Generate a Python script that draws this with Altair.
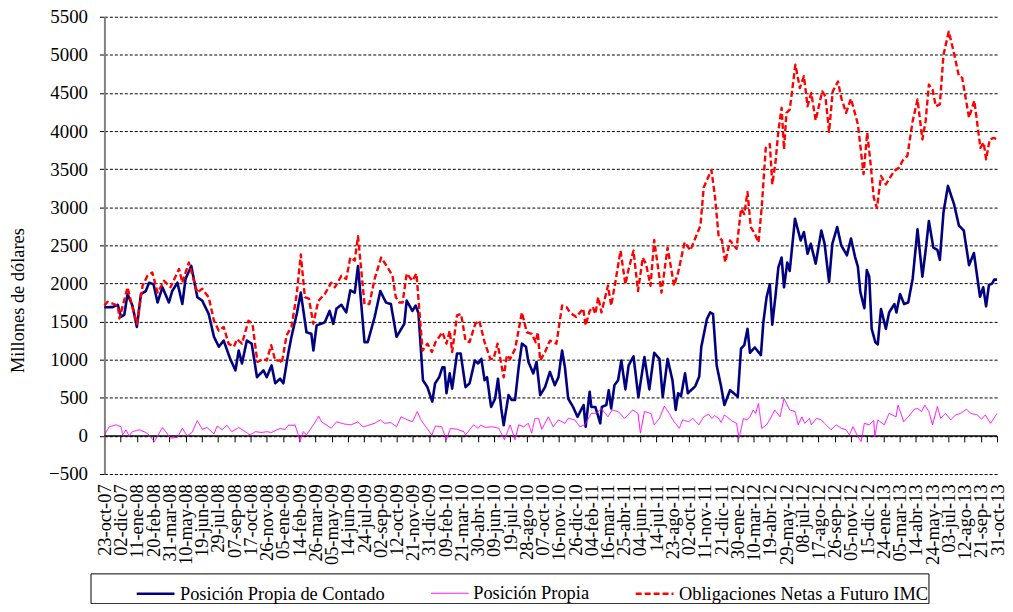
import json
import pandas as pd
import altair as alt

# x tick labels (every 40 days from 23-oct-07)
etiquetas = ["23-oct-07", "02-dic-07", "11-ene-08", "20-feb-08", "31-mar-08", "10-may-08",
             "19-jun-08", "29-jul-08", "07-sep-08", "17-oct-08", "26-nov-08", "05-ene-09",
             "14-feb-09", "26-mar-09", "05-may-09", "14-jun-09", "24-jul-09", "02-sep-09",
             "12-oct-09", "21-nov-09", "31-dic-09", "09-feb-10", "21-mar-10", "30-abr-10",
             "09-jun-10", "19-jul-10", "28-ago-10", "07-oct-10", "16-nov-10", "26-dic-10",
             "04-feb-11", "16-mar-11", "25-abr-11", "04-jun-11", "14-jul-11", "23-ago-11",
             "02-oct-11", "11-nov-11", "21-dic-11", "30-ene-12", "10-mar-12", "19-abr-12",
             "29-may-12", "08-jul-12", "17-ago-12", "26-sep-12", "05-nov-12", "15-dic-12",
             "24-ene-13", "05-mar-13", "14-abr-13", "24-may-13", "03-jul-13", "12-ago-13",
             "21-sep-13", "31-oct-13"]

series = ["Posición Propia de Contado", "Posición Propia", "Obligaciones Netas a Futuro IMC"]

# Posición Propia de Contado: (days since 23-oct-07, millones de dólares)
contado_dias = [0, 20, 33, 41, 49, 57, 69, 80, 90, 102, 110, 121, 131, 143, 159, 167, 180, 192, 200, 214,
                229, 241, 257, 270, 282, 294, 310, 323, 331, 339, 351, 363, 376, 392, 400, 412, 421, 433, 441, 453,
                461, 474, 484, 498, 510, 515, 523, 543, 555, 564, 572, 584, 596, 606, 617, 625, 641, 649, 666, 680,
                694, 706, 720, 739, 745, 759, 767, 774, 785, 796, 808, 815, 825, 833, 838, 843, 851, 857, 869, 878,
                890, 900, 913, 921, 929, 937, 943, 953, 963, 970, 978, 984, 996, 1004, 1012, 1021, 1029, 1039, 1045, 1057,
                1065, 1074, 1086, 1098, 1110, 1119, 1128, 1135, 1143, 1155, 1166, 1181, 1186, 1196, 1200, 1210, 1222, 1226, 1237, 1243,
                1249, 1257, 1266, 1274, 1284, 1292, 1304, 1316, 1331, 1343, 1355, 1368, 1376, 1388, 1400, 1408, 1414, 1421, 1431, 1438,
                1456, 1466, 1471, 1485, 1493, 1500, 1509, 1520, 1528, 1542, 1561, 1569, 1577, 1585, 1591, 1603, 1618, 1624, 1632, 1640,
                1646, 1654, 1661, 1669, 1675, 1683, 1689, 1702, 1716, 1724, 1733, 1741, 1753, 1767, 1775, 1786, 1794, 1806, 1816, 1830,
                1840, 1850, 1857, 1863, 1873, 1879, 1885, 1891, 1900, 1906, 1914, 1926, 1934, 1947, 1952, 1961, 1971, 1981, 1992, 2004,
                2016, 2024, 2032, 2043, 2053, 2059, 2068, 2079, 2094, 2106, 2118, 2131, 2143, 2158, 2166, 2173, 2180, 2188, 2193, 2200]
contado_val = [1688, 1690, 1720, 1560, 1590, 1860, 1710, 1430, 1860, 1900, 2010, 1990, 1750, 1950, 1750, 1900, 2010, 1730, 2060, 2230,
               1820, 1775, 1600, 1300, 1170, 1250, 1010, 860, 1120, 950, 1250, 1210, 770, 860, 770, 925, 690, 750, 690, 1080,
               1300, 1600, 1880, 1360, 1340, 1120, 1450, 1490, 1640, 1470, 1670, 1720, 1620, 1910, 1880, 2230, 1230, 1230, 1560, 1900,
               1750, 1730, 1300, 1470, 1775, 1640, 1710, 1610, 730, 640, 450, 690, 770, 900, 900, 560, 820, 620, 1080, 1080,
               640, 690, 990, 950, 1010, 730, 770, 380, 490, 750, 360, 140, 535, 470, 470, 900, 1210, 1170, 970, 820,
               970, 535, 640, 840, 665, 770, 1120, 900, 490, 380, 250, 405, 120, 580, 380, 380, 165, 380, 405, 600,
               360, 665, 730, 990, 610, 925, 1045, 510, 1035, 610, 1090, 1010, 510, 1010, 730, 340, 560, 520, 820, 560,
               650, 780, 1165, 1535, 1620, 1600, 925, 645, 405, 600, 515, 1145, 1190, 1405, 1090, 1160, 1060, 1490, 1820, 1990,
               1460, 1840, 2210, 2340, 1950, 2275, 2165, 2850, 2565, 2675, 2390, 2520, 2260, 2695, 2520, 2020, 2520, 2740, 2500, 2370,
               2590, 2350, 2220, 1890, 1675, 2175, 2090, 1405, 1230, 1200, 1665, 1405, 1620, 1730, 1620, 1860, 1730, 1750, 2060, 2710,
               2090, 2435, 2820, 2470, 2440, 2310, 2935, 3280, 3040, 2760, 2695, 2240, 2400, 1825, 1950, 1700, 1980, 2000, 2050, 2050]

# Posición Propia
propia_dias = [0, 12, 29, 41, 45, 53, 61, 69, 86, 102, 110, 123, 143, 163, 180, 192, 204, 216, 229, 241,
               253, 270, 278, 290, 302, 314, 331, 347, 359, 372, 388, 400, 412, 433, 445, 453, 470, 478, 482, 490,
               498, 519, 528, 535, 559, 572, 592, 608, 625, 637, 645, 666, 680, 690, 706, 720, 731, 747, 759, 771,
               780, 792, 807, 816, 831, 843, 853, 869, 886, 890, 910, 921, 927, 939, 955, 972, 980, 986, 992, 1000,
               1012, 1021, 1033, 1045, 1053, 1061, 1070, 1078, 1094, 1106, 1119, 1135, 1143, 1159, 1172, 1184, 1200, 1212, 1225, 1241,
               1251, 1266, 1282, 1302, 1315, 1321, 1331, 1347, 1355, 1368, 1380, 1392, 1404, 1417, 1425, 1440, 1450, 1465, 1477, 1489,
               1497, 1504, 1514, 1520, 1528, 1546, 1558, 1564, 1575, 1583, 1591, 1599, 1605, 1612, 1620, 1632, 1643, 1652, 1665, 1675,
               1689, 1702, 1710, 1719, 1726, 1738, 1742, 1755, 1767, 1775, 1791, 1804, 1816, 1828, 1836, 1845, 1857, 1865, 1873, 1885,
               1896, 1899, 1906, 1922, 1934, 1951, 1956, 1970, 1981, 1996, 2004, 2014, 2022, 2032, 2041, 2053, 2061, 2073, 2086, 2098,
               2110, 2125, 2135, 2151, 2162, 2171, 2184, 2200]
propia_val = [13, 120, 145, 120, 13, 80, 0, 55, 80, 45, 13, -75, 110, -30, -20, 100, 0, 45, 200, 87,
              110, 25, 130, 80, 140, 55, 110, 55, 13, 55, 45, 55, 45, 100, 80, 140, 140, 13, -75, 55,
              13, 175, 260, 185, 100, 185, 155, 145, 185, 120, 130, 165, 210, 165, 175, 120, 250, 210, 185, 320,
              210, 120, 13, 130, 120, -50, 100, 87, 55, 13, 145, 100, 140, 110, 120, 100, 13, -50, 35, 145,
              -50, 145, 120, 165, 35, 230, 230, 87, 250, 120, 210, 165, 230, 210, 120, 145, 295, 295, 360, 250,
              340, 320, 230, 340, 295, 35, 320, 295, 145, 230, 390, 295, 185, 100, 210, 185, 230, 145, 250, 285,
              230, 265, 230, 175, 275, 200, 165, -30, 230, 210, 250, 340, 295, 425, 100, 145, 245, 340, 250, 490,
              340, 320, 145, 250, 165, 230, 145, 230, 210, 165, 80, 145, 100, 80, 13, 120, -10, -75, 165, 145,
              200, -10, 210, 145, 295, 250, 405, 185, 250, 350, 360, 320, 405, 320, 145, 385, 230, 295, 210, 275,
              295, 350, 295, 275, 220, 275, 165, 295]

# Obligaciones Netas a Futuro IMC
imc_dias = [0, 8, 33, 37, 57, 69, 80, 94, 106, 118, 131, 147, 163, 184, 192, 208, 229, 241, 257, 270,
            282, 294, 306, 319, 327, 339, 355, 365, 377, 392, 400, 411, 421, 433, 437, 449, 461, 474, 484, 494,
            504, 515, 527, 543, 559, 568, 584, 596, 606, 617, 625, 641, 653, 666, 682, 698, 710, 718, 727, 735,
            745, 759, 769, 784, 796, 807, 816, 833, 843, 851, 857, 869, 879, 890, 900, 914, 924, 937, 951, 959,
            969, 984, 992, 1000, 1012, 1029, 1041, 1053, 1063, 1068, 1074, 1086, 1098, 1114, 1128, 1139, 1147, 1163, 1180, 1186,
            1196, 1204, 1210, 1217, 1225, 1241, 1249, 1259, 1272, 1284, 1292, 1304, 1315, 1327, 1335, 1346, 1355, 1373, 1388, 1404,
            1414, 1430, 1444, 1456, 1469, 1477, 1496, 1505, 1514, 1522, 1530, 1542, 1558, 1569, 1577, 1585, 1593, 1603, 1612, 1620,
            1630, 1640, 1646, 1654, 1661, 1669, 1675, 1681, 1689, 1703, 1714, 1724, 1733, 1742, 1753, 1769, 1777, 1786, 1795, 1808,
            1816, 1828, 1840, 1857, 1871, 1880, 1888, 1896, 1904, 1914, 1926, 1947, 1959, 1967, 1979, 1992, 2004, 2016, 2024, 2032,
            2041, 2049, 2059, 2068, 2081, 2094, 2106, 2114, 2131, 2144, 2159, 2167, 2173, 2182, 2192, 2200]
imc_val = [1710, 1760, 1710, 1540, 1950, 1690, 1470, 1970, 2100, 2145, 1880, 2035, 1950, 2190, 2010, 2275, 1880, 1930, 1820, 1510,
           1380, 1430, 1210, 1170, 1270, 1210, 1510, 1470, 970, 1010, 990, 1190, 990, 990, 950, 1320, 1430, 1860, 2380, 1820,
           1800, 1470, 1770, 1860, 2010, 1950, 2100, 2060, 2340, 2300, 2620, 1730, 1730, 2060, 2340, 2210, 2100, 1820, 1750, 1750,
           2130, 2035, 2130, 1120, 1210, 1100, 1230, 1360, 1210, 1380, 1100, 1580, 1600, 1250, 1230, 1470, 1510, 1230, 1010, 1010,
           1210, 770, 1060, 1010, 1140, 1620, 1360, 1340, 1230, 1360, 990, 1100, 1250, 1210, 1710, 1690, 1620, 1560, 1670, 1450,
           1640, 1690, 1600, 1820, 1620, 1970, 1710, 2010, 2430, 1990, 2190, 2430, 1900, 2340, 2250, 1970, 2570, 1880, 2470, 1970,
           2145, 2540, 2435, 2590, 2760, 3260, 3490, 3130, 2610, 2565, 2280, 2565, 2455, 2980, 2910, 3200, 2740, 2650, 2540, 3000,
           3780, 3830, 3300, 3590, 4000, 4305, 3760, 4240, 4280, 4870, 4565, 4720, 4325, 4500, 4140, 4520, 4455, 3990, 4520, 4650,
           4435, 4240, 4425, 4090, 3435, 3980, 3590, 3130, 2990, 3410, 3300, 3480, 3520, 3610, 3675, 4130, 4415, 3890, 4130, 4610,
           4545, 4325, 4350, 5000, 5305, 5020, 4720, 4700, 4175, 4400, 3780, 3850, 3630, 3890, 3910, 3890]

colores = ["#000080", "#FF00FF", "#FF0000"]

frames = []
for nombre, dias, vals in zip(series, [contado_dias, propia_dias, imc_dias],
                              [contado_val, propia_val, imc_val]):
    frames.append(pd.DataFrame({"dia": dias, "valor": vals, "serie": nombre}))
df = pd.concat(frames, ignore_index=True)

FONT = "Liberation Serif"
W, H = 898, 460
ymin, ymax = -500, 5500
ultimo = 40 * (len(etiquetas) - 1)
xscale = alt.Scale(domain=[0, ultimo], nice=False, zero=False)
yscale = alt.Scale(domain=[ymin, ymax], nice=False)
tick_vals = [40 * i for i in range(len(etiquetas))]
label_expr = json.dumps(etiquetas) + "[round(datum.value / 40)]"
zero_offset = H * (0 - ymin) / (ymax - ymin)

label_axis = alt.Axis(values=tick_vals, labelExpr=label_expr, labelAngle=270,
                      labelFont=FONT, labelFontSize=18.5, labelColor="black",
                      labelPadding=10, labelOverlap=False, labelFlush=False, labelBound=False,
                      domain=False, ticks=False, grid=False, title=None, orient="bottom")

y_axis = alt.Axis(values=list(range(ymin, ymax + 1, 500)), format="d",
                  labelOverlap=False, labelBound=False, labelFlush=False,
                  title="Millones de dólares",
                  titleFont=FONT, titleFontSize=18.5, titleFontWeight="normal", titleColor="black",
                  titleX=-87.5, titleY=285, titleAngle=270, titleAlign="center", titleBaseline="middle",
                  labelFont=FONT, labelFontSize=19, labelColor="black", labelPadding=12,
                  domainColor="#808080", domainWidth=2, tickColor="black", tickSize=5,
                  grid=True, gridColor="black", gridDash=[3, 2], gridWidth=1, gridOpacity=1)

legend_spec = dict(title=None)

lines = alt.Chart(df).mark_line(strokeJoin="round").encode(
    x=alt.X("dia:Q", scale=xscale, axis=label_axis),
    y=alt.Y("valor:Q", scale=yscale, axis=y_axis),
    color=alt.Color("serie:N", scale=alt.Scale(domain=series, range=colores),
                    legend=alt.Legend(**legend_spec)),
    strokeDash=alt.StrokeDash("serie:N", scale=alt.Scale(domain=series, range=[[1, 0], [1, 0], [6, 3]]),
                              legend=alt.Legend(**legend_spec)),
    strokeWidth=alt.StrokeWidth("serie:O", scale=alt.Scale(type="ordinal", domain=series, range=[2.6, 1, 2.4]),
                                legend=alt.Legend(**legend_spec)),
)

zero_df = pd.DataFrame({"x0": [min(df["dia"])], "x1": [max(df["dia"])], "y0": [0]})
zero = alt.Chart(zero_df).mark_rule(color="black", strokeWidth=1.5).encode(
    x=alt.X("x0:Q", scale=xscale,
            axis=alt.Axis(values=tick_vals, labels=False, ticks=True, tickSize=6, tickColor="black",
                          tickWidth=1, domain=False, grid=False, title=None, orient="bottom",
                          offset=-zero_offset)),
    x2="x1:Q",
    y=alt.Y("y0:Q", scale=yscale, axis=y_axis),
)

chart = alt.layer(zero, lines).resolve_axis(x="independent").properties(
    width=W, height=H, autosize="none",
    padding={"left": 97, "top": 7, "right": 8, "bottom": 129},
).configure_view(stroke=None).configure_legend(
    orient="none", legendX=-14, legendY=560, direction="horizontal",
    strokeColor="black", fillColor="white", padding=0, cornerRadius=0,
    symbolType="stroke", symbolSize=1444, symbolOffset=45, labelOffset=4,
    labelFont=FONT, labelFontSize=18.5, labelColor="black", columnPadding=0, labelLimit=500,
)

chart.save("out.html", embed_options={"renderer": "svg", "actions": False})
